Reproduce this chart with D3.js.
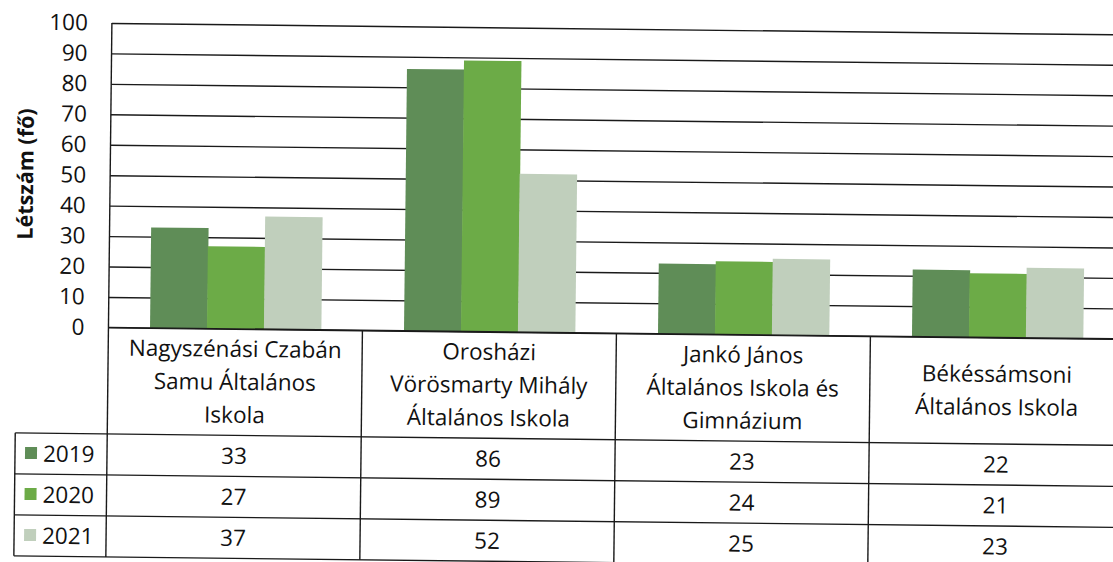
<!DOCTYPE html>
<html>
<head>
<meta charset="utf-8">
<script src="https://cdn.jsdelivr.net/npm/d3@7"></script>
<style>
  body { margin: 0; background: #fff; }
  svg { display: block; }
  text { font-family: "Open Sans", sans-serif; fill: #111; }
</style>
</head>
<body>
<div id="chart"></div>
<script>
// Chart data
const categories = [
    "Nagyszénási Czabán Samu Általános Iskola",
    "Orosházi Vörösmarty Mihály Általános Iskola",
    "Jankó János Általános Iskola és Gimnázium",
    "Békéssámsoni Általános Iskola"
];
// how the category names wrap in the table header
const categoryLines = [
    ["Nagyszénási Czabán", "Samu Általános", "Iskola"],
    ["Orosházi", "Vörösmarty Mihály", "Általános Iskola"],
    ["Jankó János", "Általános Iskola és", "Gimnázium"],
    ["Békéssámsoni", "Általános Iskola"]
];
const years = ["2019", "2020", "2021"];
const values2019 = [33, 86, 23, 22];
const values2020 = [27, 89, 24, 21];
const values2021 = [37, 52, 25, 23];
const yTicks = [0, 10, 20, 30, 40, 50, 60, 70, 80, 90, 100];
const colors = ["#5f8d57", "#6cab47", "#c0cfbc"];

const seriesValues = [values2019, values2020, values2021];

// Page size and layout
const W = 1113, H = 562;
const plotLeft = 109, plotRight = 1125;
const plotTop = 28, plotBottom = 332.5;
const tableLeft = 17;
const headerBottom = 439;
const rowH = 41;
const fontSize = "22.5px";

const svg = d3.select("#chart")
    .append("svg")
    .attr("width", W)
    .attr("height", H);

svg.append("rect").attr("width", W).attr("height", H).attr("fill", "#fff");

// the scanned page is a little tilted
const g = svg.append("g")
    .attr("transform", "rotate(0.65," + W / 2 + "," + H / 2 + ")");

// Scales
const x = d3.scaleBand()
    .domain(categories)
    .range([plotLeft, plotRight])
    .padding(0);

const xSub = d3.scaleBand()
    .domain(years)
    .range([0, x.bandwidth()])
    .paddingInner(0)
    .paddingOuter(0.73);

const y = d3.scaleLinear()
    .domain([0, 100])
    .range([plotBottom, plotTop]);

// Gridlines + tick labels
const yAxis = g.append("g")
    .attr("transform", "translate(" + plotLeft + ",0)")
    .call(d3.axisLeft(y)
        .tickValues(yTicks)
        .tickSize(-(plotRight - plotLeft))
        .tickPadding(24));
yAxis.select(".domain").remove();
yAxis.selectAll(".tick line")
    .attr("stroke", "#1a1a1a")
    .attr("stroke-width", 1.4);
yAxis.selectAll(".tick text")
    .style("font-family", "'Open Sans', sans-serif")
    .style("font-size", fontSize)
    .attr("fill", "#111");

// Bars
const rows = categories.map((c, i) => ({ cat: c, vals: seriesValues.map(s => s[i]) }));
const groups = g.selectAll(".grp")
    .data(rows)
    .enter()
    .append("g")
    .attr("class", "grp")
    .attr("transform", d => "translate(" + x(d.cat) + ",0)");

groups.selectAll("rect")
    .data(d => d.vals.map((v, k) => ({ year: years[k], value: v, k: k })))
    .enter()
    .append("rect")
    .attr("x", d => xSub(d.year))
    .attr("y", d => y(d.value))
    .attr("width", xSub.bandwidth() + 0.5)
    .attr("height", d => y(0) - y(d.value))
    .attr("fill", d => colors[d.k]);

// Data table lines
const tableBottom = headerBottom + rowH * years.length;
const lineColor = "#1a1a1a";
function hline(x1, x2, yy) {
    g.append("line").attr("x1", x1).attr("x2", x2).attr("y1", yy).attr("y2", yy)
        .attr("stroke", lineColor).attr("stroke-width", 1.4);
}
function vline(xx, y1, y2) {
    g.append("line").attr("x1", xx).attr("x2", xx).attr("y1", y1).attr("y2", y2)
        .attr("stroke", lineColor).attr("stroke-width", 1.4);
}
hline(plotLeft, plotRight, plotBottom);
hline(tableLeft, plotRight, headerBottom);
years.forEach((yr, k) => hline(tableLeft, plotRight, headerBottom + rowH * (k + 1)));
vline(plotLeft, plotTop, tableBottom);
vline(tableLeft, headerBottom, tableBottom);
categories.forEach(c => vline(x(c) + x.bandwidth(), plotBottom, tableBottom));

// Category headers
const lineGap = 33;
const headerMid = 393.5;
categories.forEach((c, i) => {
    const lines = categoryLines[i];
    const t = g.append("text")
        .attr("text-anchor", "middle")
        .style("font-size", fontSize);
    lines.forEach((ln, j) => {
        t.append("tspan")
            .attr("x", x(c) + x.bandwidth() / 2)
            .attr("y", headerMid + (j - (lines.length - 1) / 2) * lineGap)
            .text(ln);
    });
});

// Value rows with legend keys
years.forEach((yr, k) => {
    const rowTop = headerBottom + rowH * k;
    const mid = rowTop + rowH / 2;
    g.append("rect")
        .attr("x", 27)
        .attr("y", mid - 6.5)
        .attr("width", 12)
        .attr("height", 12)
        .attr("fill", colors[k]);
    g.append("text")
        .attr("x", 45)
        .attr("y", mid + 8)
        .style("font-size", fontSize)
        .text(yr);
    categories.forEach((c, i) => {
        g.append("text")
            .attr("x", x(c) + x.bandwidth() / 2)
            .attr("y", mid + 8)
            .attr("text-anchor", "middle")
            .style("font-size", fontSize)
            .text(seriesValues[k][i]);
    });
});

// Y axis title
g.append("text")
    .attr("transform", "translate(32,180) rotate(-90)")
    .attr("text-anchor", "middle")
    .style("font-size", "21.5px")
    .style("font-weight", "bold")
    .text("Létszám (fő)");
</script>
</body>
</html>
